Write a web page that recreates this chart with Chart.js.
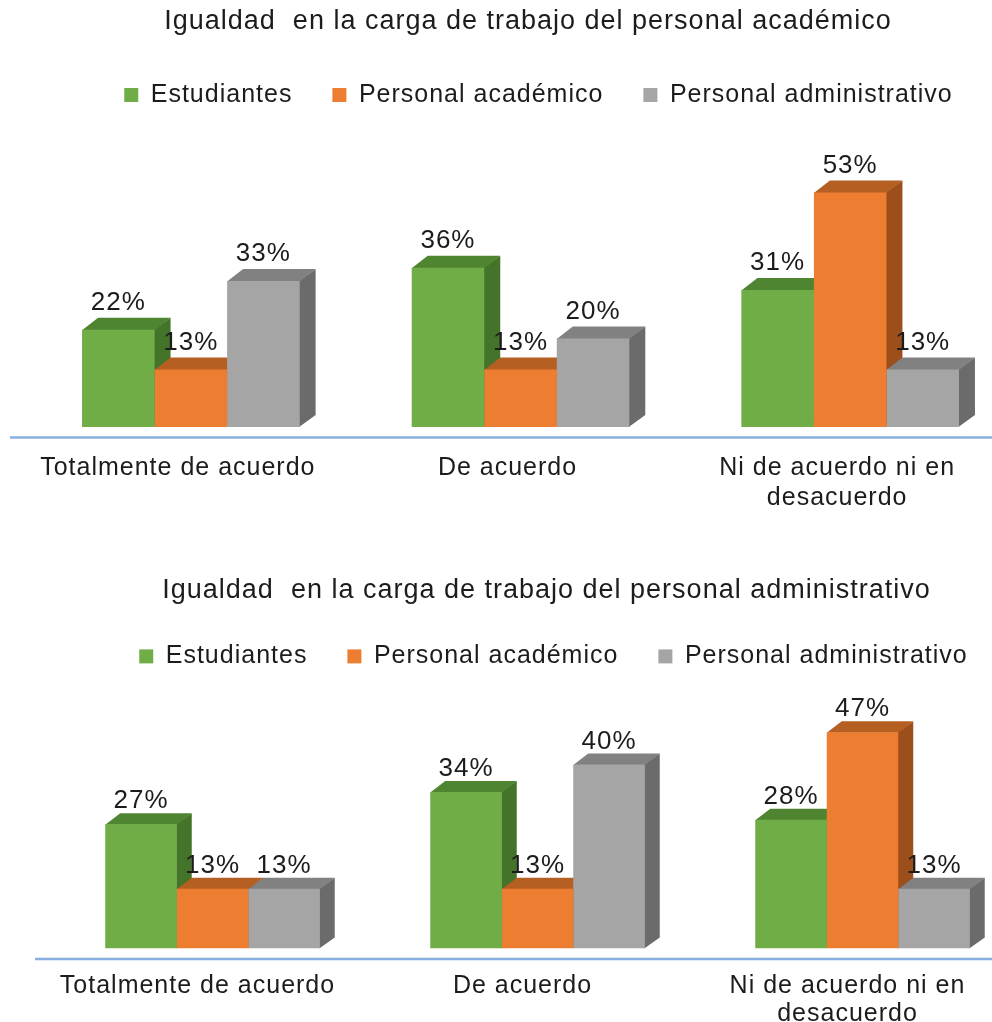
<!DOCTYPE html>
<html>
<head>
<meta charset="utf-8">
<title>Igualdad en la carga de trabajo</title>
<script src="https://cdn.jsdelivr.net/npm/chart.js@4.4.1/dist/chart.umd.min.js"></script>
<style>
  html, body { margin: 0; padding: 0; background: #ffffff; overflow: hidden; }
  #wrap { position: relative; width: 992px; height: 1022px; overflow: hidden; }
  #wrap canvas { position: absolute; left: 0; }
</style>
</head>
<body>
<div id="wrap">
  <canvas id="cargaAcademico" width="1030" height="539" style="top:0px"></canvas>
  <canvas id="cargaAdministrativo" width="1030" height="544" style="top:508px"></canvas>
</div>
<script>
// ---- data ----
const categories = ['Totalmente de acuerdo', 'De acuerdo', ['Ni de acuerdo ni en', 'desacuerdo']];
const seriesNames = ['Estudiantes', 'Personal académico', 'Personal administrativo'];

const titleAcademico = 'Igualdad  en la carga de trabajo del personal académico';
const academicoEstudiantes = [22, 36, 31];
const academicoPersonalAcademico = [13, 13, 53];
const academicoPersonalAdministrativo = [33, 20, 13];

const titleAdministrativo = 'Igualdad  en la carga de trabajo del personal administrativo';
const administrativoEstudiantes = [27, 34, 28];
const administrativoPersonalAcademico = [13, 13, 47];
const administrativoPersonalAdministrativo = [13, 40, 13];

// ---- styles ----
const frontColors = ['#70ad47', '#ed7d31', '#a5a5a5'];
const topColors   = ['#4f8530', '#b65f22', '#818181'];
const sideColors  = ['#44732a', '#9c4f1b', '#6b6b6b'];
const FONT = '"Liberation Sans", Arial, sans-serif';
const TEXT = '#1c1c1c';

// Slightly open up the glyph spacing for all canvas text.
const spacingPlugin = {
  id: 'spacing',
  beforeUpdate(chart) { chart.ctx.letterSpacing = '1px'; },
  beforeLayout(chart) { chart.ctx.letterSpacing = '1px'; },
  beforeDraw(chart) { chart.ctx.letterSpacing = '1px'; }
};

// Move title / legend blocks sideways or down after layout.
const nudgePlugin = {
  id: 'nudge',
  afterLayout(chart, args, opts) {
    const pairs = [[chart.titleBlock, opts.title], [chart.legend, opts.legend]];
    for (const [box, d] of pairs) {
      if (!box || !d) continue;
      box.left += d[0]; box.right += d[0];
      box.top += d[1]; box.bottom += d[1];
    }
  }
};

// Extruded column look: top and side faces, the floor line and value labels.
const bars3dPlugin = {
  id: 'bars3d',
  beforeDatasetsDraw(chart, args, opts) {
    const ctx = chart.ctx;
    const { dx, dy } = opts;
    const yScale = chart.scales.y;
    const base = yScale.getPixelForValue(0);
    ctx.save();
    // floor line
    ctx.strokeStyle = '#88afe0';
    ctx.lineWidth = 2.5;
    ctx.beginPath();
    ctx.moveTo(opts.lineStart, base + opts.lineDrop);
    ctx.lineTo(chart.width, base + opts.lineDrop);
    ctx.stroke();

    const metas = chart.data.datasets.map((d, i) => chart.getDatasetMeta(i));
    const n = chart.data.labels.length;
    for (let j = 0; j < n; j++) {
      metas.forEach((meta, i) => {
        const bar = meta.data[j];
        const { x, y, base: b, width } = bar.getProps(['x', 'y', 'base', 'width'], true);
        const l = x - width / 2, r = x + width / 2;
        ctx.fillStyle = sideColors[i];
        ctx.beginPath();
        ctx.moveTo(r - 0.5, y);
        ctx.lineTo(r + dx, y - dy);
        ctx.lineTo(r + dx, b - dy);
        ctx.lineTo(r - 0.5, b);
        ctx.closePath();
        ctx.fill();
        ctx.fillStyle = topColors[i];
        ctx.beginPath();
        ctx.moveTo(l, y + 0.5);
        ctx.lineTo(l + dx, y - dy);
        ctx.lineTo(r + dx, y - dy);
        ctx.lineTo(r, y + 0.5);
        ctx.closePath();
        ctx.fill();
      });
    }
    ctx.restore();
  },
  afterDatasetsDraw(chart, args, opts) {
    const ctx = chart.ctx;
    ctx.save();
    ctx.letterSpacing = '1px';
    ctx.font = `26px ${FONT}`;
    ctx.fillStyle = TEXT;
    ctx.textAlign = 'center';
    ctx.textBaseline = 'middle';
    chart.data.datasets.forEach((ds, i) => {
      const meta = chart.getDatasetMeta(i);
      meta.data.forEach((bar, j) => {
        const { x, y } = bar.getProps(['x', 'y'], true);
        ctx.fillText(ds.data[j] + '%', x, y - opts.labelGap);
      });
    });
    ctx.restore();
  }
};

function makeChart(id, title, values, cfg) {
  return new Chart(document.getElementById(id), {
    type: 'bar',
    data: {
      labels: categories,
      datasets: values.map((v, i) => ({
        label: seriesNames[i],
        data: v,
        backgroundColor: frontColors[i],
        borderWidth: 0,
        categoryPercentage: 0.66,
        barPercentage: 1.0
      }))
    },
    options: {
      responsive: false,
      devicePixelRatio: 1,
      animation: false,
      events: [],
      layout: { padding: cfg.padding },
      scales: {
        x: {
          grid: { display: false, drawTicks: false },
          border: { display: false },
          ticks: {
            color: TEXT,
            font: { family: FONT, size: 25, lineHeight: cfg.tickLineHeight },
            padding: cfg.tickPadding,
            labelOffset: cfg.labelOffset,
            maxRotation: 0,
            minRotation: 0,
            autoSkip: false
          }
        },
        y: { display: false, min: 0, max: cfg.yMax }
      },
      plugins: {
        title: {
          display: true,
          text: title,
          color: TEXT,
          font: { family: FONT, size: 27, weight: 'normal', lineHeight: 1.2 },
          padding: cfg.titlePadding
        },
        legend: {
          display: true,
          position: 'top',
          labels: {
            color: TEXT,
            font: { family: FONT, size: 25 },
            boxWidth: 14,
            boxHeight: 14,
            padding: 40
          }
        },
        tooltip: { enabled: false },
        nudge: cfg.nudge,
        bars3d: cfg.bars3d
      }
    },
    plugins: [spacingPlugin, nudgePlugin, bars3dPlugin]
  });
}

makeChart('cargaAcademico', titleAcademico,
  [academicoEstudiantes, academicoPersonalAcademico, academicoPersonalAdministrativo], {
    padding: { left: 26, right: 15, top: 0, bottom: 0 },
    titlePadding: { top: 5, bottom: 5 },
    tickPadding: 26,
    tickLineHeight: 1.2,
    labelOffset: -13,
    yMax: 70,
    nudge: { title: [7.5, 0], legend: [18, 0] },
    bars3d: { dx: 16, dy: 12, labelGap: 27, lineStart: 10, lineDrop: 10.5 }
  });

makeChart('cargaAdministrativo', titleAdministrativo,
  [administrativoEstudiantes, administrativoPersonalAcademico, administrativoPersonalAdministrativo], {
    padding: { left: 50, right: 5, top: 0, bottom: 0.5 },
    titlePadding: { top: 63, bottom: 0.5 },
    tickPadding: 24,
    tickLineHeight: 1.1,
    labelOffset: -15,
    yMax: 58.6,
    nudge: { title: [9, 3], legend: [16, 0] },
    bars3d: { dx: 15, dy: 11, labelGap: 23, lineStart: 35, lineDrop: 10.5 }
  });
</script>
</body>
</html>
